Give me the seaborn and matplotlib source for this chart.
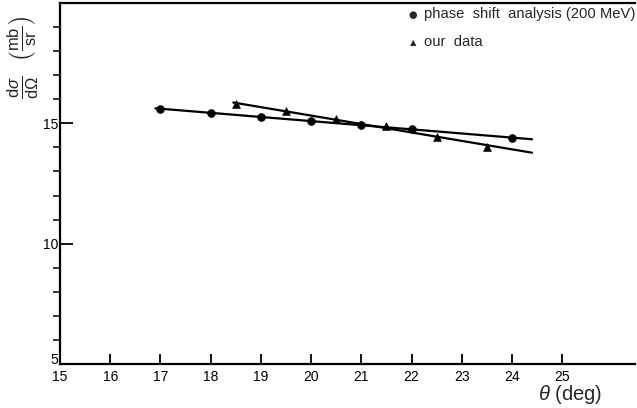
import numpy as np
import pandas as pd
import matplotlib
matplotlib.use("Agg")
import matplotlib.pyplot as plt
import seaborn as sns

# phase shift analysis (200 MeV) - circles
phase_theta = [17, 18, 19, 20, 21, 22, 24]
phase_xs = [15.58, 15.44, 15.27, 15.11, 14.94, 14.76, 14.38]

# our data - triangles
our_theta = [18.5, 19.5, 20.5, 21.5, 22.5, 23.5]
our_xs = [15.79, 15.51, 15.16, 14.90, 14.44, 14.03]

# range over which each straight line is drawn
phase_fit_range = [16.9, 24.4]
our_fit_range = [18.45, 24.4]

sns.set_style("ticks")
plt.rcParams['font.family'] = ['Liberation Sans', 'DejaVu Sans']
plt.rcParams['mathtext.fontset'] = 'custom'
plt.rcParams['mathtext.rm'] = 'Liberation Sans'
plt.rcParams['mathtext.it'] = 'Liberation Sans:italic'

fig = plt.figure(figsize=(6.37, 4.08), dpi=100)
ax = fig.add_axes([60 / 637, 44 / 408, 575 / 637, 361 / 408])

phase = pd.DataFrame({'theta': phase_theta, 'xs': phase_xs})
ours = pd.DataFrame({'theta': our_theta, 'xs': our_xs})

# straight-line fits through each set
for df, rng in [(phase, phase_fit_range), (ours, our_fit_range)]:
    k, b = np.polyfit(df['theta'], df['xs'], 1)
    xx = np.array(rng)
    ax.plot(xx, k * xx + b, color='black', lw=1.6, zorder=2)

sns.scatterplot(data=phase, x='theta', y='xs', marker='o', s=32,
                color='black', edgecolor='black', ax=ax, zorder=3)
sns.scatterplot(data=ours, x='theta', y='xs', marker='^', s=32,
                color='black', edgecolor='black', ax=ax, zorder=3)

ax.set_xlim(15, 26.45)
ax.set_ylim(5, 20)
ax.set_xticks(range(15, 26))
ax.set_yticks([5, 10, 15])
ax.set_yticks(range(5, 20), minor=True)
ax.tick_params(axis='both', direction='in', width=1.3, labelsize=10,
               colors='black')
ax.tick_params(axis='y', which='major', length=9, pad=1)
ax.tick_params(axis='y', which='minor', length=5, width=1.3)
ax.tick_params(axis='x', which='major', length=7, pad=4.5)
ax.set_xlabel('')
ax.set_ylabel('')
for s in ['left', 'bottom', 'top']:
    ax.spines[s].set_linewidth(1.6)
    ax.spines[s].set_color('black')
ax.spines['right'].set_visible(False)

fig.canvas.draw()
ax.get_yticklabels()[0].set_va('baseline')

# legend drawn as text with markers
lx = 413 / 637
fig.text(lx, 1 - 15 / 408, '\u25cf', fontsize=7, ha='center', va='center',
         family='DejaVu Sans')
fig.text(lx, 1 - 43 / 408, '\u25b2', fontsize=6, ha='center', va='center',
         family='DejaVu Sans')
fig.text(424 / 637, 1 - 14 / 408, 'phase  shift  analysis (200 MeV)',
         fontsize=10.6, va='center', ha='left')
fig.text(424 / 637, 1 - 42 / 408, 'our  data', fontsize=10.6,
         va='center', ha='left')

# axis labels
fig.text(23 / 637, 1 - 58 / 408,
         r'$\frac{\mathrm{d}\sigma}{\mathrm{d}\Omega}\ \ \left(\frac{\mathrm{mb}}{\mathrm{sr}}\right)$',
         rotation=90, fontsize=17, ha='center', va='center')
fig.text(538 / 637, 1 - 395 / 408, r'$\theta$ (deg)', fontsize=14.5,
         ha='left', va='center')

fig.savefig('out.png', dpi=100)
